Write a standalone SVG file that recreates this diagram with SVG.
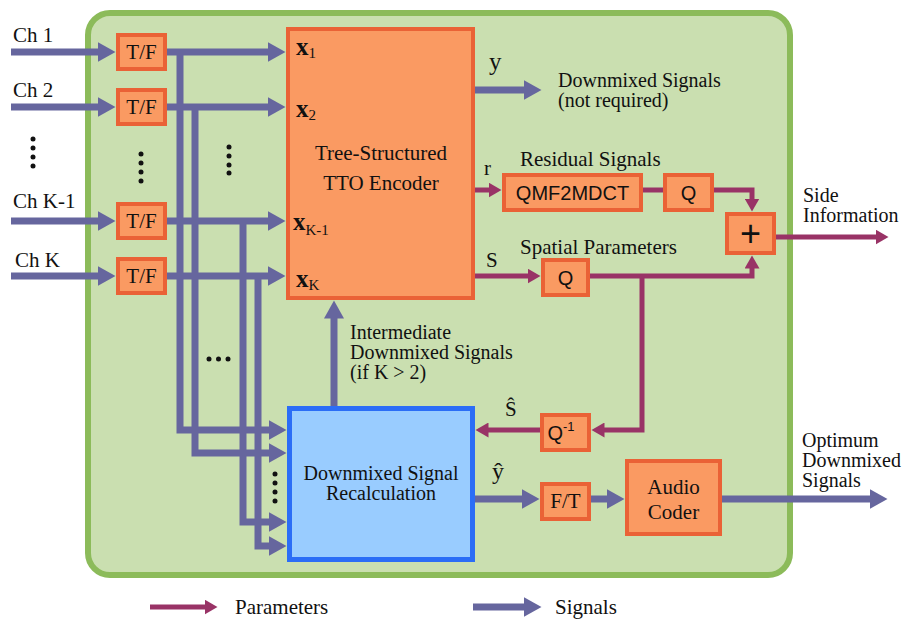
<svg xmlns="http://www.w3.org/2000/svg" width="908" height="619" viewBox="0 0 908 619">
<defs>
<style>
.t{font-family:"Liberation Serif","Times New Roman",serif;font-size:21px;fill:#111}
.m{font-size:20px}
.s{font-family:"Liberation Sans",Arial,sans-serif;font-size:20px;fill:#111}
.box{fill:#fa9a62;stroke:#ea6236;stroke-width:4}
.sig{fill:none;stroke:#66669e;stroke-width:7}
.par{fill:none;stroke:#993366;stroke-width:5}
.dot{fill:#111}
</style>
<marker id="as" markerUnits="userSpaceOnUse" markerWidth="19" markerHeight="20" refX="0.5" refY="10" orient="auto"><path d="M0,0 L18,10 L0,20 z" fill="#66669e"/></marker>
<marker id="ap" markerUnits="userSpaceOnUse" markerWidth="14" markerHeight="15" refX="0.5" refY="7.5" orient="auto"><path d="M0,0 L13,7.5 L0,15 z" fill="#993366"/></marker>
</defs>
<rect width="908" height="619" fill="#fff"/>
<rect id="container" x="88" y="13" width="702" height="562" rx="22" fill="#cadfb0" stroke="#8cbb5a" stroke-width="6"/>

<g id="connectors">
<path class="sig" d="M11,52 H98" marker-end="url(#as)"/>
<path class="sig" d="M11,107 H98" marker-end="url(#as)"/>
<path class="sig" d="M11,221 H98" marker-end="url(#as)"/>
<path class="sig" d="M11,276 H98" marker-end="url(#as)"/>
<path class="sig" d="M167,52 H268" marker-end="url(#as)"/>
<path class="sig" d="M167,107 H268" marker-end="url(#as)"/>
<path class="sig" d="M167,221 H268" marker-end="url(#as)"/>
<path class="sig" d="M167,276 H268" marker-end="url(#as)"/>
<path class="sig" d="M180,52 V430 H269" marker-end="url(#as)"/>
<path class="sig" d="M195,107 V453 H269" marker-end="url(#as)"/>
<path class="sig" d="M243,221 V522 H269" marker-end="url(#as)"/>
<path class="sig" d="M258,276 V546 H269" marker-end="url(#as)"/>
<path class="sig" d="M334,406 V318" marker-end="url(#as)"/>
<path class="sig" d="M475,90 H524" marker-end="url(#as)"/>
<path class="sig" d="M475,499 H522" marker-end="url(#as)"/>
<path class="sig" d="M591,499 H607" marker-end="url(#as)"/>
<path class="sig" d="M722,499 H870" marker-end="url(#as)"/>
<path class="par" d="M475,190 H489" marker-end="url(#ap)"/>
<path class="par" d="M641,190 H665"/>
<path class="par" d="M712,190 H752 V199" marker-end="url(#ap)"/>
<path class="par" d="M475,276 H528" marker-end="url(#ap)"/>
<path class="par" d="M588,276 H752 V268" marker-end="url(#ap)"/>
<path class="par" d="M642,276 V430 H604" marker-end="url(#ap)"/>
<path class="par" d="M542,430 H488" marker-end="url(#ap)"/>
<path class="par" d="M774,237 H876" marker-end="url(#ap)"/>
</g>

<g id="tf1"><rect class="box" x="118" y="35" width="47" height="34"/><text class="t" x="141.5" y="59" text-anchor="middle">T/F</text></g>
<g id="tf2"><rect class="box" x="118" y="90" width="47" height="34"/><text class="t" x="141.5" y="114" text-anchor="middle">T/F</text></g>
<g id="tfk1"><rect class="box" x="118" y="204" width="47" height="34"/><text class="t" x="141.5" y="228" text-anchor="middle">T/F</text></g>
<g id="tfk"><rect class="box" x="118" y="259" width="47" height="34"/><text class="t" x="141.5" y="283" text-anchor="middle">T/F</text></g>

<g id="encoder">
<rect class="box" x="288" y="29" width="185" height="269"/>
<text class="t" x="381" y="160" text-anchor="middle">Tree-Structured</text>
<text class="t" x="381" y="190" text-anchor="middle">TTO Encoder</text>
<text class="t" x="296" y="55" style="font-size:25px;font-weight:bold">x<tspan dy="3" style="font-size:15px;font-weight:normal">1</tspan></text>
<text class="t" x="296" y="117" style="font-size:25px;font-weight:bold">x<tspan dy="3" style="font-size:15px;font-weight:normal">2</tspan></text>
<text class="t" x="293" y="230" style="font-size:25px;font-weight:bold">x<tspan dy="5" style="font-size:15px;font-weight:normal">K-1</tspan></text>
<text class="t" x="296" y="287" style="font-size:25px;font-weight:bold">x<tspan dy="3" style="font-size:15px;font-weight:normal">K</tspan></text>
</g>

<g id="recalc">
<rect x="289.5" y="408.5" width="183" height="151" fill="#99ccff" stroke="#2b6df6" stroke-width="5"/>
<text class="t m" x="381" y="480" text-anchor="middle">Downmixed Signal</text>
<text class="t m" x="381" y="500" text-anchor="middle">Recalculation</text>
</g>

<g id="qmf"><rect class="box" x="504" y="175" width="137" height="35"/><text class="s" x="572.5" y="200" text-anchor="middle">QMF2MDCT</text></g>
<g id="q1"><rect class="box" x="665" y="175" width="47" height="35"/><text class="s" x="688.5" y="200" text-anchor="middle">Q</text></g>
<g id="plus"><rect class="box" x="727" y="214" width="47" height="39"/><text class="s" x="750.5" y="246" text-anchor="middle" style="font-size:36px">+</text></g>
<g id="q2"><rect class="box" x="543" y="260" width="45" height="35"/><text class="s" x="565.5" y="285" text-anchor="middle">Q</text></g>
<g id="qinv"><rect class="box" x="542" y="415" width="47" height="35"/><text class="s" x="561" y="440" text-anchor="middle">Q<tspan dy="-9" style="font-size:13px">-1</tspan></text></g>
<g id="ft"><rect class="box" x="542" y="484" width="47" height="35"/><text class="t" x="565.5" y="508" text-anchor="middle">F/T</text></g>
<g id="coder"><rect class="box" x="627" y="461" width="93" height="73"/><text class="t" x="673.5" y="494" text-anchor="middle">Audio</text><text class="t" x="673.5" y="519" text-anchor="middle">Coder</text></g>

<g id="labels">
<text class="t" x="13" y="42">Ch 1</text>
<text class="t" x="13" y="97">Ch 2</text>
<text class="t" x="13" y="208">Ch K-1</text>
<text class="t" x="15" y="267">Ch K</text>
<text class="t" x="489" y="70" style="font-size:25px">y</text>
<text class="t m" x="558" y="87">Downmixed Signals</text>
<text class="t m" x="558" y="107">(not required)</text>
<text class="t" x="484" y="175">r</text>
<text class="t" x="520" y="166">Residual Signals</text>
<text class="t" x="486" y="267">S</text>
<text class="t" x="520" y="254">Spatial Parameters</text>
<text class="t m" x="803" y="202">Side</text>
<text class="t m" x="803" y="222">Information</text>
<text class="t m" x="350" y="339">Intermediate</text>
<text class="t m" x="350" y="359">Downmixed Signals</text>
<text class="t m" x="350" y="379">(if K &gt; 2)</text>
<text class="t" x="505" y="416">Ŝ</text>
<text class="t" x="492" y="479" style="font-size:24px">ŷ</text>
<text class="t m" x="802" y="447">Optimum</text>
<text class="t m" x="802" y="467">Downmixed</text>
<text class="t m" x="802" y="487">Signals</text>
</g>

<g id="dots">
<circle class="dot" cx="33" cy="139" r="2.5"/><circle class="dot" cx="33" cy="148" r="2.5"/><circle class="dot" cx="33" cy="157" r="2.5"/><circle class="dot" cx="33" cy="166" r="2.5"/>
<circle class="dot" cx="141" cy="154" r="2.5"/><circle class="dot" cx="141" cy="163" r="2.5"/><circle class="dot" cx="141" cy="172" r="2.5"/><circle class="dot" cx="141" cy="181" r="2.5"/>
<circle class="dot" cx="229" cy="147" r="2.5"/><circle class="dot" cx="229" cy="156" r="2.5"/><circle class="dot" cx="229" cy="165" r="2.5"/><circle class="dot" cx="229" cy="173" r="2.5"/>
<circle class="dot" cx="209" cy="359" r="2.5"/><circle class="dot" cx="218.5" cy="359" r="2.5"/><circle class="dot" cx="228" cy="359" r="2.5"/>
<circle class="dot" cx="275" cy="474" r="2.5"/><circle class="dot" cx="275" cy="483" r="2.5"/><circle class="dot" cx="275" cy="492" r="2.5"/><circle class="dot" cx="275" cy="501" r="2.5"/>
</g>

<g id="legend">
<path class="par" d="M150,607 H205" marker-end="url(#ap)"/>
<text class="t" x="235" y="614">Parameters</text>
<path class="sig" d="M473,607 H524" marker-end="url(#as)"/>
<text class="t" x="555" y="614">Signals</text>
</g>
</svg>
